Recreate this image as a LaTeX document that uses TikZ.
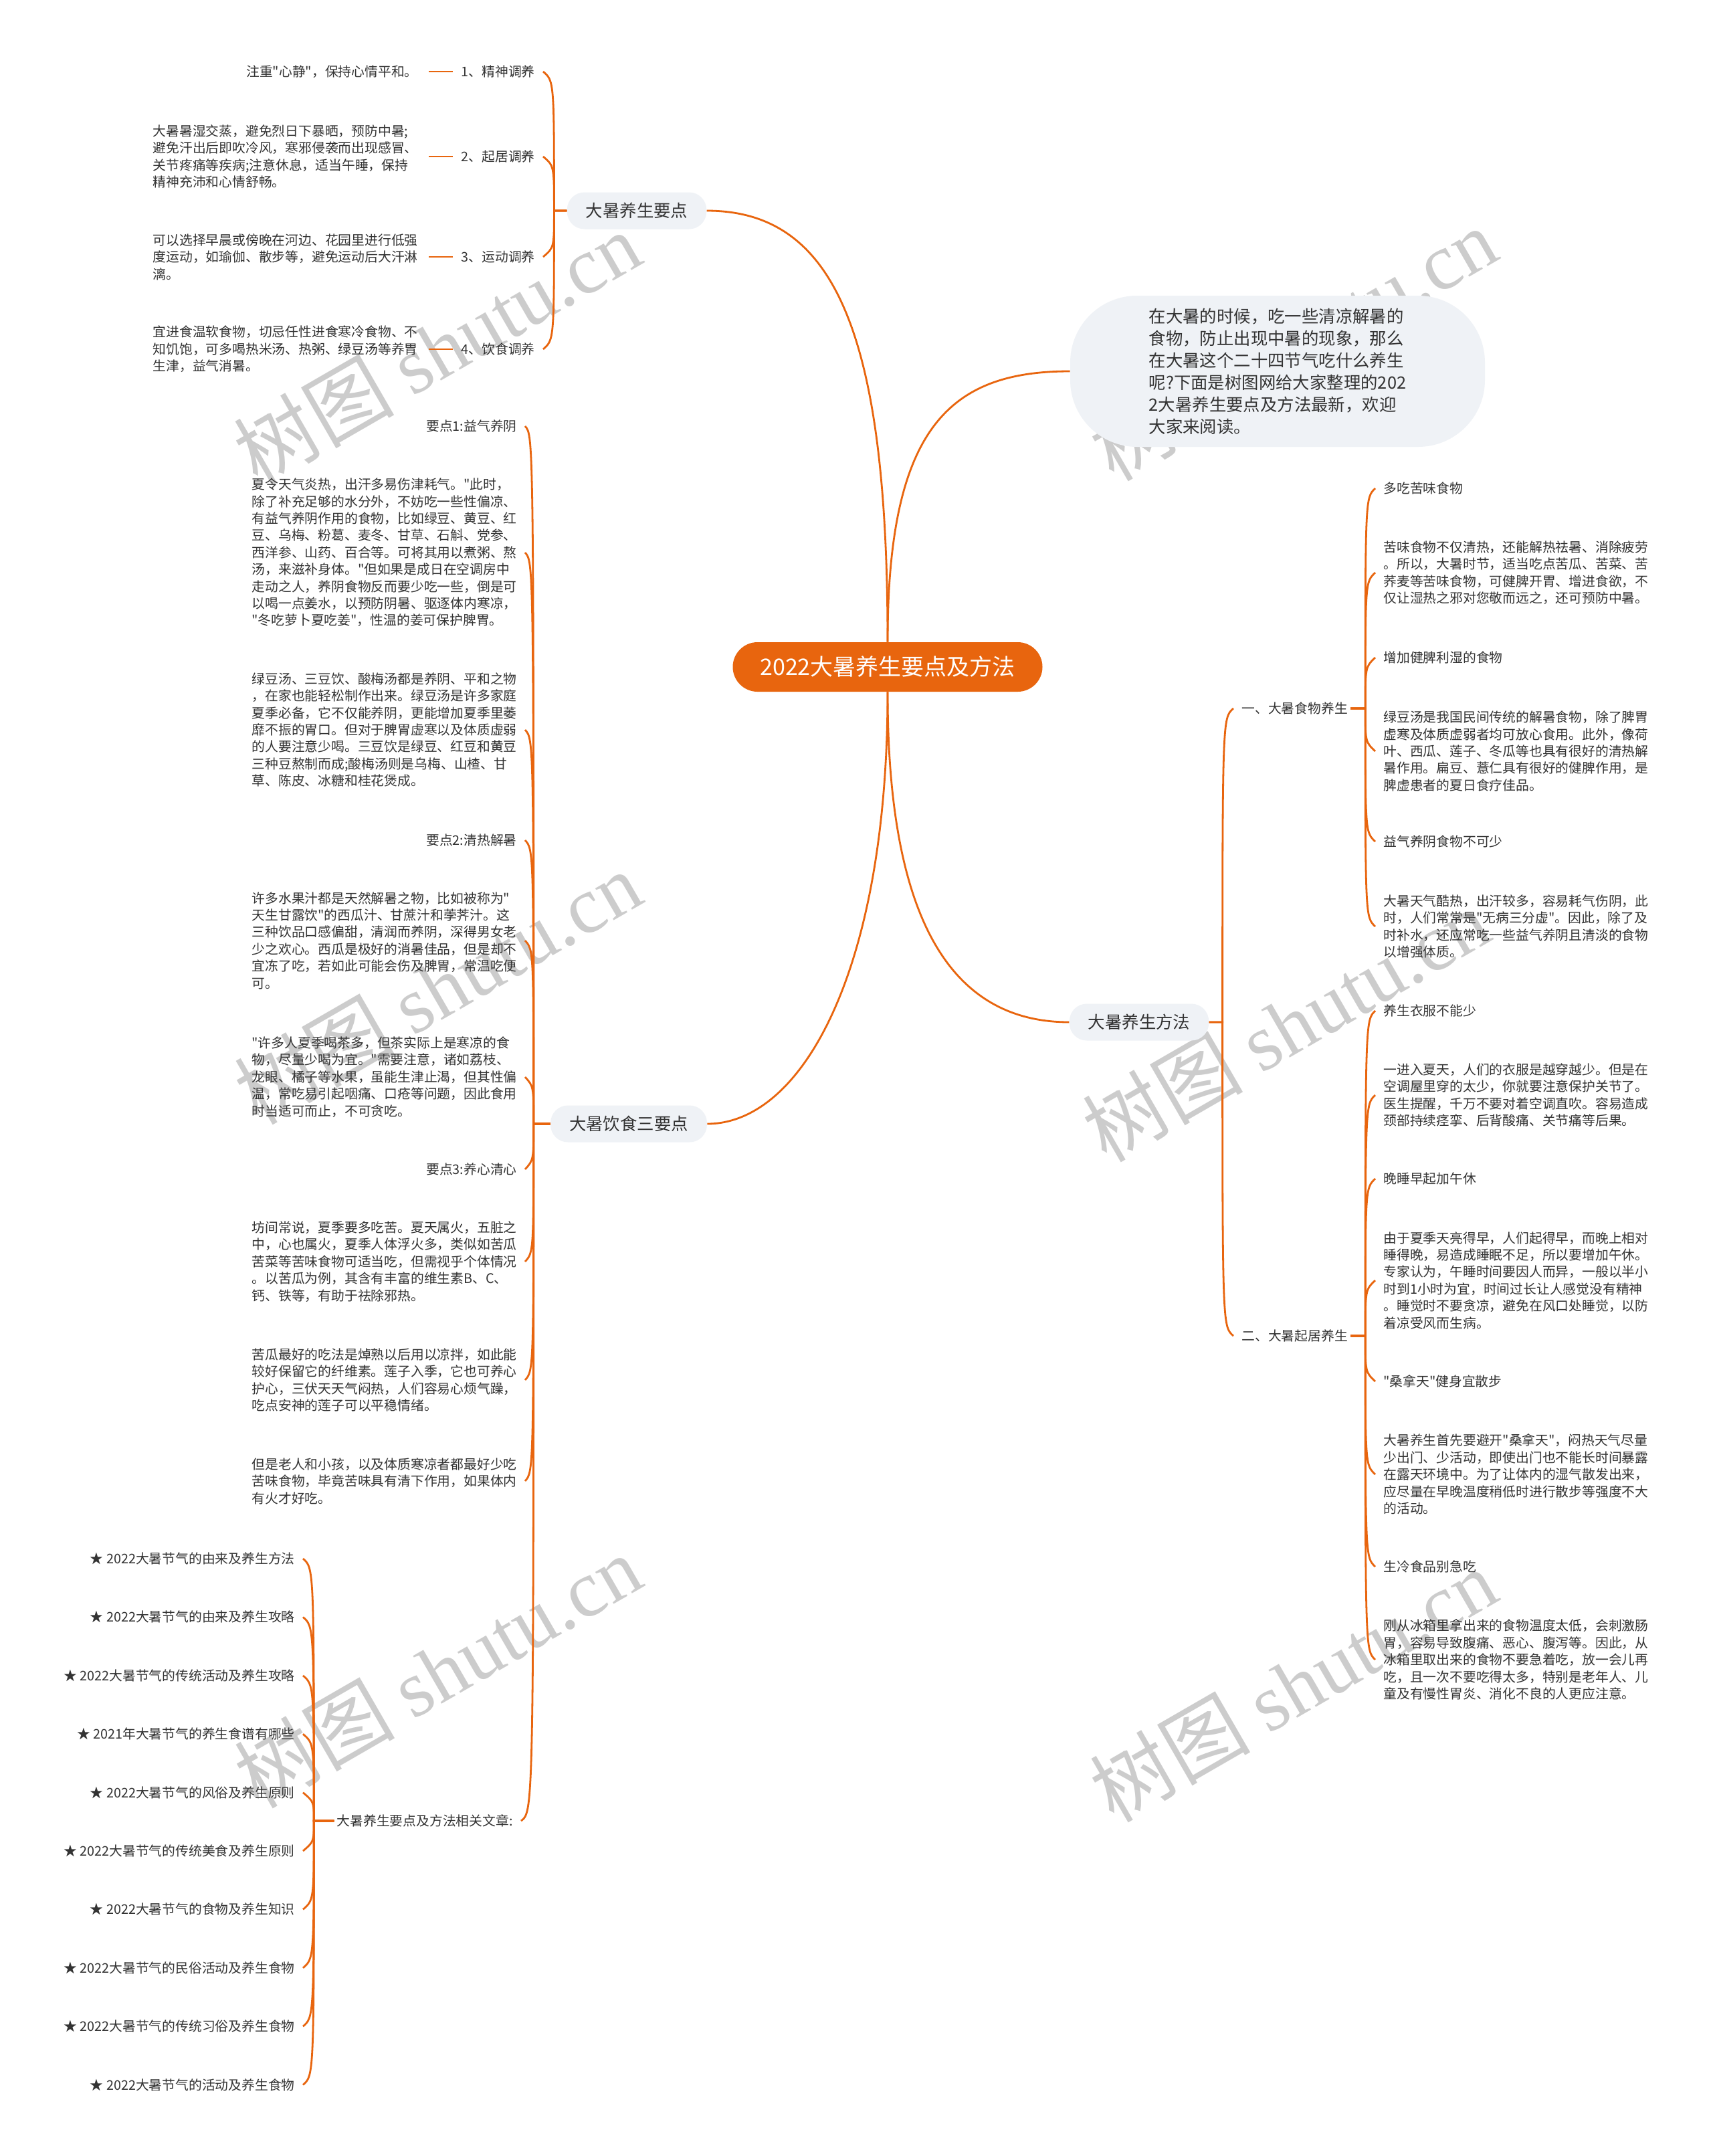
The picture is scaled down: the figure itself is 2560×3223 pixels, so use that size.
\documentclass[tikz,border=0pt]{standalone}
\usepackage{fontspec}
\setmainfont{Noto Sans CJK SC}[Ligatures=TeXOff]
\newfontfamily\wmlatin{Liberation Serif}
\usetikzlibrary{calc}
\definecolor{orangeC}{HTML}{E8650E}
\definecolor{boxC}{HTML}{EFF2F6}
\definecolor{txtC}{HTML}{333333}
\definecolor{wmC}{HTML}{CCCCCC}
\newcommand{\brL}[3]{%
  \path (#1.west) ++(-#3,0) coordinate (bS);
  \path (bS |- #2.east) coordinate (bQ);
  \path ($(bQ)!7pt!(bS)$) coordinate (bC);
  \draw[conn] (#1.west) -- (bS) .. controls (bC) and (bC) .. ([xshift=4pt]#2.east);}
\newcommand{\brR}[3]{%
  \path (#1.east) ++(#3,0) coordinate (bS);
  \path (bS |- #2.west) coordinate (bQ);
  \path ($(bQ)!7pt!(bS)$) coordinate (bC);
  \draw[conn] (#1.east) -- (bS) .. controls (bC) and (bC) .. ([xshift=-4pt]#2.west);}
\begin{document}
\begin{tikzpicture}[x=0.5pt,y=-0.5pt,
  conn/.style={draw=orangeC, line width=1.4pt},
  txt/.style={align=left, font=\fontsize{9.9pt}{12.7pt}\selectfont, text=txtC, inner sep=2pt},
  lbl/.style={font=\fontsize{9.9pt}{12.7pt}\selectfont, text=txtC, inner sep=2pt},
  mainbox/.style={fill=boxC, rounded corners=13pt, font=\fontsize{12.7pt}{15pt}\selectfont, text=txtC, minimum height=27.5pt, inner xsep=14pt},
  rootbox/.style={fill=orangeC, rounded corners=18.5pt, font=\fontsize{17pt}{20pt}\selectfont, text=white, minimum width=231.5pt, minimum height=37pt},
  bubble/.style={fill=boxC, rounded corners=50pt, align=left, font=\fontsize{12.7pt}{16.5pt}\selectfont, text=txtC, minimum width=310pt, minimum height=113pt},
  wm/.style={text=wmC, font=\fontsize{60pt}{60pt}\selectfont, rotate=30, inner sep=0pt}]
\useasboundingbox (0,0) rectangle (2560,3223);
\fill[white] (0,0) rectangle (2560,3223);
% watermarks
\foreach \p/\n in {{(653,520)}/w1,{(1933,514)}/w2,{(654,1476)}/w3,{(1922,1532)}/w4,{(654,2498)}/w5,{(1933,2519)}/w6}
  \node[wm] (\n) at \p {树图 {\wmlatin shutu.cn}};
% root and main branches
\node[rootbox] (root) at (1327,997) {2022大暑养生要点及方法};
\node[mainbox] (ya) at (952,315) {大暑养生要点};
\node[mainbox] (yb) at (940,1680) {大暑饮食三要点};
\node[mainbox] (ff) at (1703,1528) {大暑养生方法};
\node[bubble] (intro) at (1910,555) {在大暑的时候，吃一些清凉解暑的\\食物，防止出现中暑的现象，那么\\在大暑这个二十四节气吃什么养生\\呢?下面是树图网给大家整理的202\\2大暑养生要点及方法最新，欢迎\\大家来阅读。};
\draw[conn] (root.north) .. controls ([yshift=230pt]root.north) and ([xshift=96pt]ya.east) .. (ya.east);
\draw[conn] (root.north) .. controls ([yshift=160pt]root.north) and ([xshift=-90pt]intro.west) .. (intro.west);
\draw[conn] (root.south) .. controls ([yshift=-158pt]root.south) and ([xshift=-95pt]ff.west) .. (ff.west);
\draw[conn] (root.south) .. controls ([yshift=-208pt]root.south) and ([xshift=71pt]yb.east) .. (yb.east);
% branch: 大暑养生要点
\node[lbl, anchor=east] (ya1) at (804,107) {1、精神调养};
\node[lbl, anchor=east] (ya2) at (804,234) {2、起居调养};
\node[lbl, anchor=east] (ya3) at (804,384) {3、运动调养};
\node[lbl, anchor=east] (ya4) at (804,522) {4、饮食调养};
\node[txt, anchor=east] (ya1t) at (629,107) {注重"心静"，保持心情平和。};
\node[txt, anchor=east] (ya2t) at (629,234) {大暑暑湿交蒸，避免烈日下暴晒，预防中暑;\\避免汗出后即吹冷风，寒邪侵袭而出现感冒、\\关节疼痛等疾病;注意休息，适当午睡，保持\\精神充沛和心情舒畅。};
\node[txt, anchor=east] (ya3t) at (629,384) {可以选择早晨或傍晚在河边、花园里进行低强\\度运动，如瑜伽、散步等，避免运动后大汗淋\\漓。};
\node[txt, anchor=east] (ya4t) at (629,522) {宜进食温软食物，切忌任性进食寒冷食物、不\\知饥饱，可多喝热米汤、热粥、绿豆汤等养胃\\生津，益气消暑。};
\foreach \c in {ya1,ya2,ya3,ya4} {\brL{ya}{\c}{19}}
\foreach \c in {ya1,ya2,ya3,ya4} {\draw[conn, shorten <=4pt, shorten >=6pt] (\c.west) -- (\c t.east);}
% branch: 大暑饮食三要点
\node[lbl, anchor=east] (yb1) at (777,637) {要点1:益气养阴};
\node[txt, anchor=east] (yb2) at (777,826) {夏令天气炎热，出汗多易伤津耗气。"此时，\\除了补充足够的水分外，不妨吃一些性偏凉、\\有益气养阴作用的食物，比如绿豆、黄豆、红\\豆、乌梅、粉葛、麦冬、甘草、石斛、党参、\\西洋参、山药、百合等。可将其用以煮粥、熬\\汤，来滋补身体。"但如果是成日在空调房中\\走动之人，养阴食物反而要少吃一些，倒是可\\以喝一点姜水，以预防阴暑、驱逐体内寒凉，\\"冬吃萝卜夏吃姜"，性温的姜可保护脾胃。};
\node[txt, anchor=east] (yb3) at (777,1091) {绿豆汤、三豆饮、酸梅汤都是养阴、平和之物\\，在家也能轻松制作出来。绿豆汤是许多家庭\\夏季必备，它不仅能养阴，更能增加夏季里萎\\靡不振的胃口。但对于脾胃虚寒以及体质虚弱\\的人要注意少喝。三豆饮是绿豆、红豆和黄豆\\三种豆熬制而成;酸梅汤则是乌梅、山楂、甘\\草、陈皮、冰糖和桂花煲成。};
\node[lbl, anchor=east] (yb4) at (777,1256) {要点2:清热解暑};
\node[txt, anchor=east] (yb5) at (777,1406) {许多水果汁都是天然解暑之物，比如被称为"\\天生甘露饮"的西瓜汁、甘蔗汁和荸荠汁。这\\三种饮品口感偏甜，清润而养阴，深得男女老\\少之欢心。西瓜是极好的消暑佳品，但是却不\\宜冻了吃，若如此可能会伤及脾胃，常温吃便\\可。};
\node[txt, anchor=east] (yb6) at (777,1610) {"许多人夏季喝茶多，但茶实际上是寒凉的食\\物，尽量少喝为宜。"需要注意，诸如荔枝、\\龙眼、橘子等水果，虽能生津止渴，但其性偏\\温，常吃易引起咽痛、口疮等问题，因此食用\\时当适可而止，不可贪吃。};
\node[lbl, anchor=east] (yb7) at (777,1748) {要点3:养心清心};
\node[txt, anchor=east] (yb8) at (777,1886) {坊间常说，夏季要多吃苦。夏天属火，五脏之\\中，心也属火，夏季人体浮火多，类似如苦瓜\\苦菜等苦味食物可适当吃，但需视乎个体情况\\。以苦瓜为例，其含有丰富的维生素B、C、\\钙、铁等，有助于祛除邪热。};
\node[txt, anchor=east] (yb9) at (777,2063) {苦瓜最好的吃法是焯熟以后用以凉拌，如此能\\较好保留它的纤维素。莲子入季，它也可养心\\护心，三伏天天气闷热，人们容易心烦气躁，\\吃点安神的莲子可以平稳情绪。};
\node[txt, anchor=east] (yb10) at (777,2214) {但是老人和小孩，以及体质寒凉者都最好少吃\\苦味食物，毕竟苦味具有清下作用，如果体内\\有火才好吃。};
\node[lbl, anchor=east] (yb11) at (771,2722) {大暑养生要点及方法相关文章:};
\foreach \c in {yb1,yb2,yb3,yb4,yb5,yb6,yb7,yb8,yb9,yb10,yb11} {\brL{yb}{\c}{25}}
% related articles
\foreach \i/\t in {1/{★ 2022大暑节气的由来及养生方法},2/{★ 2022大暑节气的由来及养生攻略},3/{★ 2022大暑节气的传统活动及养生攻略},4/{★ 2021年大暑节气的养生食谱有哪些},5/{★ 2022大暑节气的风俗及养生原则},6/{★ 2022大暑节气的传统美食及养生原则},7/{★ 2022大暑节气的食物及养生知识},8/{★ 2022大暑节气的民俗活动及养生食物},9/{★ 2022大暑节气的传统习俗及养生食物},10/{★ 2022大暑节气的活动及养生食物}}
  \node[lbl, anchor=east] (yc\i) at (445,{2330+(\i-1)*87.4}) {\t};
\foreach \i in {1,...,10} {\brL{yb11}{yc\i}{30}}
% branch: 大暑养生方法
\node[lbl, anchor=west] (ff1) at (1852,1059) {一、大暑食物养生};
\node[lbl, anchor=west] (ff2) at (1852,1997) {二、大暑起居养生};
\foreach \c in {ff1,ff2} {\brR{ff}{\c}{20}}
\node[lbl, anchor=west] (f11) at (2064,730) {多吃苦味食物};
\node[txt, anchor=west] (f12) at (2064,856) {苦味食物不仅清热，还能解热祛暑、消除疲劳\\。所以，大暑时节，适当吃点苦瓜、苦菜、苦\\荞麦等苦味食物，可健脾开胃、增进食欲，不\\仅让湿热之邪对您敬而远之，还可预防中暑。};
\node[lbl, anchor=west] (f13) at (2064,983) {增加健脾利湿的食物};
\node[txt, anchor=west] (f14) at (2064,1123) {绿豆汤是我国民间传统的解暑食物，除了脾胃\\虚寒及体质虚弱者均可放心食用。此外，像荷\\叶、西瓜、莲子、冬瓜等也具有很好的清热解\\暑作用。扁豆、薏仁具有很好的健脾作用，是\\脾虚患者的夏日食疗佳品。};
\node[lbl, anchor=west] (f15) at (2064,1258) {益气养阴食物不可少};
\node[txt, anchor=west] (f16) at (2064,1385) {大暑天气酷热，出汗较多，容易耗气伤阴，此\\时，人们常常是"无病三分虚"。因此，除了及\\时补水，还应常吃一些益气养阴且清淡的食物\\以增强体质。};
\foreach \c in {f11,f12,f13,f14,f15,f16} {\brR{ff1}{\c}{22}}
\node[lbl, anchor=west] (f21) at (2064,1511) {养生衣服不能少};
\node[txt, anchor=west] (f22) at (2064,1637) {一进入夏天，人们的衣服是越穿越少。但是在\\空调屋里穿的太少，你就要注意保护关节了。\\医生提醒，千万不要对着空调直吹。容易造成\\颈部持续痉挛、后背酸痛、关节痛等后果。};
\node[lbl, anchor=west] (f23) at (2064,1762) {晚睡早起加午休};
\node[txt, anchor=west] (f24) at (2064,1914) {由于夏季天亮得早，人们起得早，而晚上相对\\睡得晚，易造成睡眠不足，所以要增加午休。\\专家认为，午睡时间要因人而异，一般以半小\\时到1小时为宜，时间过长让人感觉没有精神\\。睡觉时不要贪凉，避免在风口处睡觉，以防\\着凉受风而生病。};
\node[lbl, anchor=west] (f25) at (2064,2065) {"桑拿天"健身宜散步};
\node[txt, anchor=west] (f26) at (2064,2204) {大暑养生首先要避开"桑拿天"，闷热天气尽量\\少出门、少活动，即使出门也不能长时间暴露\\在露天环境中。为了让体内的湿气散发出来，\\应尽量在早晚温度稍低时进行散步等强度不大\\的活动。};
\node[lbl, anchor=west] (f27) at (2064,2342) {生冷食品别急吃};
\node[txt, anchor=west] (f28) at (2064,2481) {刚从冰箱里拿出来的食物温度太低，会刺激肠\\胃，容易导致腹痛、恶心、腹泻等。因此，从\\冰箱里取出来的食物不要急着吃，放一会儿再\\吃，且一次不要吃得太多，特别是老年人、儿\\童及有慢性胃炎、消化不良的人更应注意。};
\foreach \c in {f21,f22,f23,f24,f25,f26,f27,f28} {\brR{ff2}{\c}{22}}
\end{tikzpicture}
\end{document}
